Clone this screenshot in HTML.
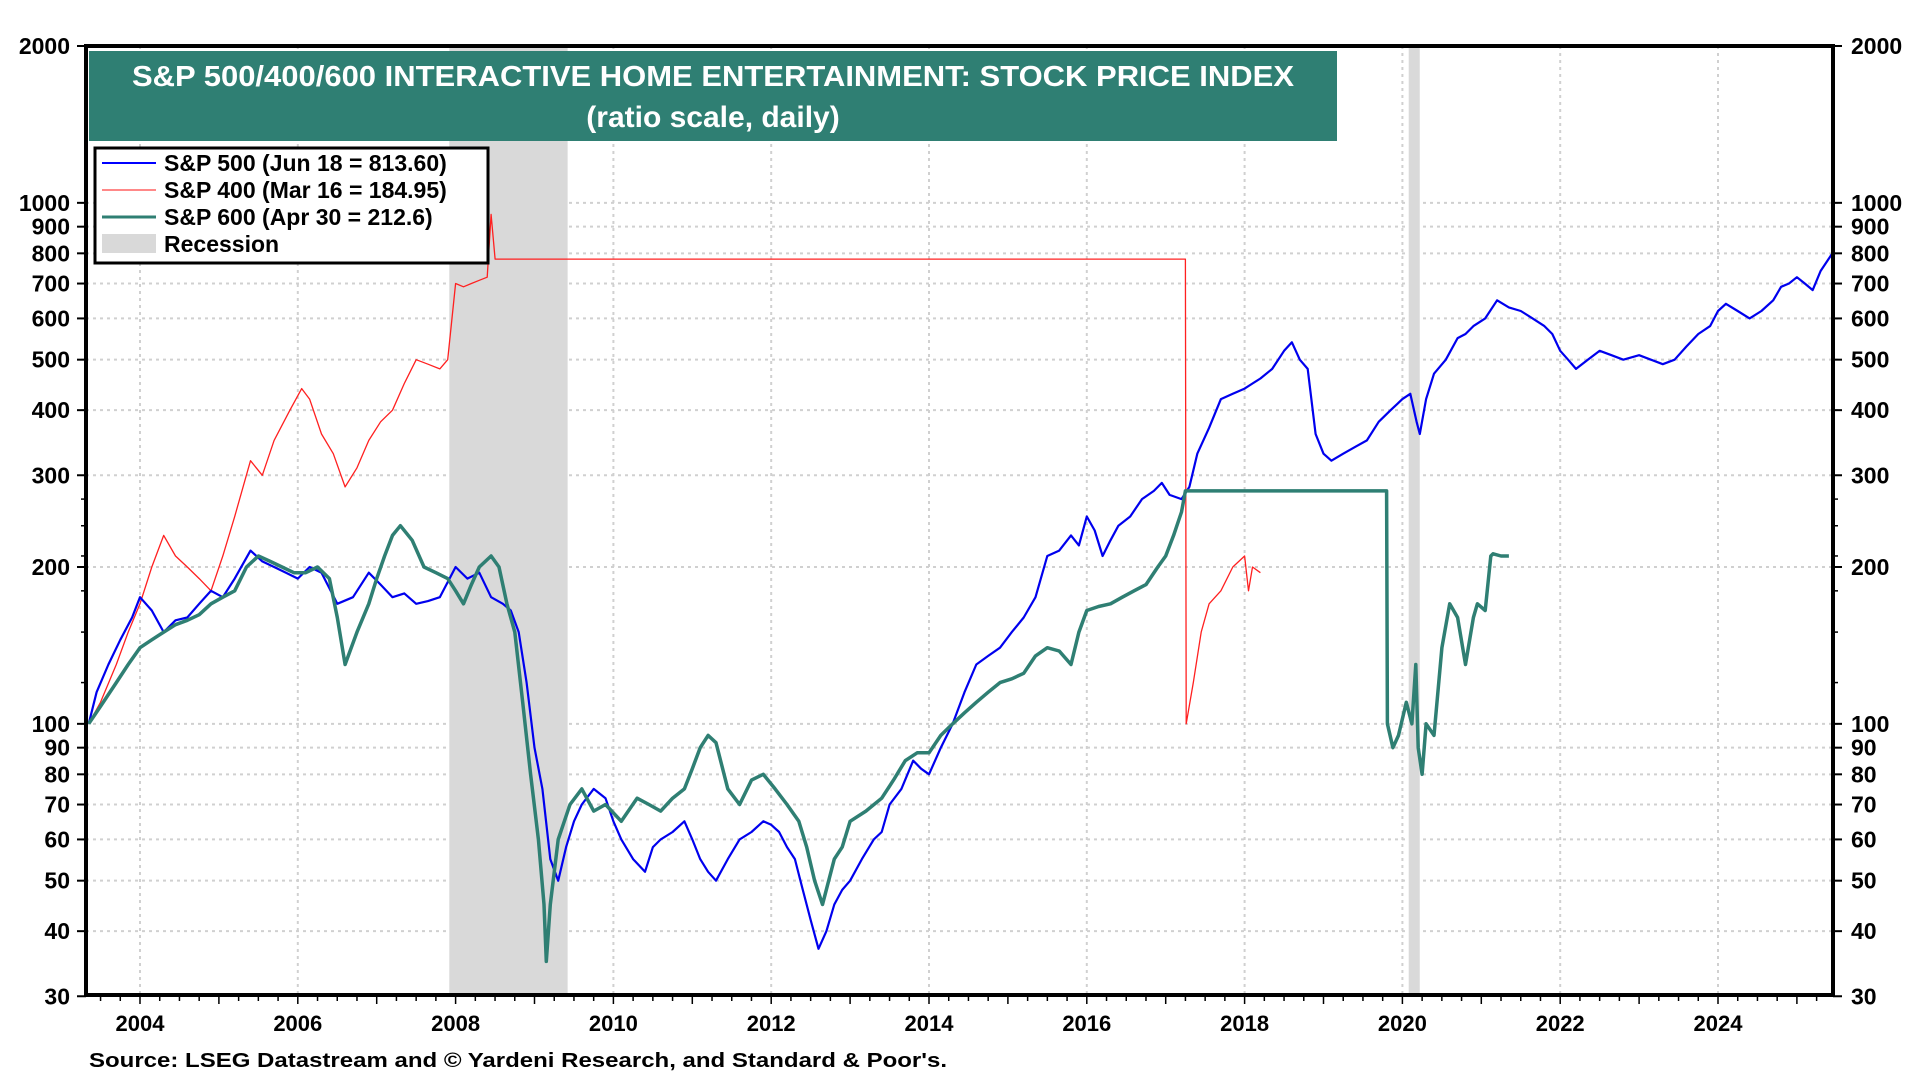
<!DOCTYPE html>
<html><head><meta charset="utf-8"><style>
html,body{margin:0;padding:0;background:#fff;}
svg{display:block;font-family:"Liberation Sans",Arial,sans-serif;font-weight:bold;}
</style></head><body>
<svg id="chart" width="1920" height="1080" viewBox="0 0 1920 1080" xmlns="http://www.w3.org/2000/svg">
<g id="grid"></g>
<g id="rec"></g>
<g id="series"></g>
<rect x="86" y="46" width="1747" height="949" fill="none" stroke="#000" stroke-width="4"/>
<g id="axes"></g>
<g>
<rect x="89" y="51" width="1248" height="90" fill="#2f7f73"/>
<text x="713" y="86" text-anchor="middle" fill="#fff" font-size="29" textLength="1162" lengthAdjust="spacingAndGlyphs">S&amp;P 500/400/600 INTERACTIVE HOME ENTERTAINMENT: STOCK PRICE INDEX</text>
<text x="713" y="127" text-anchor="middle" fill="#fff" font-size="30">(ratio scale, daily)</text>
</g>
<g>
<rect x="95" y="148" width="393" height="115" fill="#fff" stroke="#000" stroke-width="3"/>
<line x1="102" y1="163" x2="156" y2="163" stroke="#0000ff" stroke-width="2"/>
<text x="164" y="171" font-size="23">S&amp;P 500 (Jun 18 = 813.60)</text>
<line x1="102" y1="190" x2="156" y2="190" stroke="#ff6060" stroke-width="1.5"/>
<text x="164" y="198" font-size="23">S&amp;P 400 (Mar 16 = 184.95)</text>
<line x1="102" y1="217" x2="156" y2="217" stroke="#2f7f73" stroke-width="3"/>
<text x="164" y="225" font-size="23">S&amp;P 600 (Apr 30 = 212.6)</text>
<rect x="102" y="234" width="54" height="19" fill="#d9d9d9"/>
<text x="164" y="252" font-size="23">Recession</text>
</g>
<text x="89" y="1067" font-size="20" textLength="858" lengthAdjust="spacingAndGlyphs">Source: LSEG Datastream and © Yardeni Research, and Standard &amp; Poor's.</text>
</svg>
<script>
const yTickValues=[2000,1000,900,800,700,600,500,400,300,200,100,90,80,70,60,50,40,30];
const xYearLabels=[2004,2006,2008,2010,2012,2014,2016,2018,2020,2022,2024];
const recessionStarts=[2007.92,2020.08];
const recessionEnds=[2009.42,2020.22];
const sp500Dates=[2003.35,2003.45,2003.6,2003.75,2003.9,2004.0,2004.15,2004.3,2004.45,2004.6,2004.75,2004.9,2005.05,2005.2,2005.4,2005.55,2005.7,2005.85,2006.0,2006.15,2006.3,2006.5,2006.7,2006.9,2007.05,2007.2,2007.35,2007.5,2007.65,2007.8,2008.0,2008.15,2008.3,2008.45,2008.6,2008.7,2008.8,2008.9,2009.0,2009.1,2009.2,2009.3,2009.4,2009.5,2009.6,2009.75,2009.9,2010.0,2010.1,2010.25,2010.4,2010.5,2010.6,2010.75,2010.9,2011.0,2011.1,2011.2,2011.3,2011.45,2011.6,2011.75,2011.9,2012.0,2012.1,2012.2,2012.3,2012.4,2012.5,2012.6,2012.7,2012.8,2012.9,2013.0,2013.15,2013.3,2013.4,2013.5,2013.65,2013.8,2013.9,2014.0,2014.15,2014.3,2014.45,2014.6,2014.75,2014.9,2015.05,2015.2,2015.35,2015.5,2015.65,2015.8,2015.9,2016.0,2016.1,2016.2,2016.3,2016.4,2016.55,2016.7,2016.85,2016.95,2017.05,2017.2,2017.3,2017.4,2017.55,2017.7,2017.85,2018.0,2018.1,2018.2,2018.35,2018.5,2018.6,2018.7,2018.8,2018.9,2019.0,2019.1,2019.25,2019.4,2019.55,2019.7,2019.85,2020.0,2020.1,2020.18,2020.22,2020.3,2020.4,2020.55,2020.7,2020.8,2020.9,2021.05,2021.2,2021.35,2021.5,2021.65,2021.8,2021.9,2022.0,2022.1,2022.2,2022.35,2022.5,2022.65,2022.8,2022.9,2023.0,2023.15,2023.3,2023.45,2023.6,2023.75,2023.9,2024.0,2024.1,2024.25,2024.4,2024.55,2024.7,2024.8,2024.9,2025.0,2025.1,2025.2,2025.3,2025.4,2025.45];
const sp500Values=[100,115,130,145,160,175,165,150,158,160,170,180,175,190,215,205,200,195,190,200,195,170,175,195,185,175,178,170,172,175,200,190,195,175,170,165,150,120,90,75,55,50,58,65,70,75,72,65,60,55,52,58,60,62,65,60,55,52,50,55,60,62,65,64,62,58,55,48,42,37,40,45,48,50,55,60,62,70,75,85,82,80,90,100,115,130,135,140,150,160,175,210,215,230,220,250,235,210,225,240,250,270,280,290,275,270,285,330,370,420,430,440,450,460,480,520,540,500,480,360,330,320,330,340,350,380,400,420,430,380,360,420,470,500,550,560,580,600,650,630,620,600,580,560,520,500,480,500,520,510,500,505,510,500,490,500,530,560,580,620,640,620,600,620,650,690,700,720,700,680,740,780,800];
const sp400Dates=[2003.35,2003.5,2003.7,2003.85,2004.0,2004.15,2004.3,2004.45,2004.6,2004.75,2004.9,2005.05,2005.2,2005.4,2005.55,2005.7,2005.9,2006.05,2006.15,2006.3,2006.45,2006.6,2006.75,2006.9,2007.05,2007.2,2007.35,2007.5,2007.65,2007.8,2007.9,2008.0,2008.1,2008.2,2008.3,2008.4,2008.45,2008.5,2017.25,2017.26,2017.35,2017.45,2017.55,2017.7,2017.85,2018.0,2018.05,2018.1,2018.2];
const sp400Values=[100,110,130,150,170,200,230,210,200,190,180,210,250,320,300,350,400,440,420,360,330,285,310,350,380,400,450,500,490,480,500,700,690,700,710,720,950,780,780,100,120,150,170,180,200,210,180,200,195];
const sp600Dates=[2003.35,2003.5,2003.7,2003.85,2004.0,2004.15,2004.3,2004.45,2004.6,2004.75,2004.9,2005.05,2005.2,2005.35,2005.5,2005.65,2005.8,2005.95,2006.1,2006.25,2006.4,2006.5,2006.6,2006.75,2006.9,2007.0,2007.1,2007.2,2007.3,2007.45,2007.6,2007.75,2007.9,2008.0,2008.1,2008.2,2008.3,2008.45,2008.55,2008.65,2008.75,2008.85,2008.95,2009.05,2009.12,2009.15,2009.2,2009.3,2009.45,2009.6,2009.75,2009.9,2010.1,2010.3,2010.45,2010.6,2010.75,2010.9,2011.0,2011.1,2011.2,2011.3,2011.45,2011.6,2011.75,2011.9,2012.05,2012.2,2012.35,2012.45,2012.55,2012.65,2012.8,2012.9,2013.0,2013.2,2013.4,2013.55,2013.7,2013.85,2014.0,2014.15,2014.3,2014.45,2014.6,2014.75,2014.9,2015.05,2015.2,2015.35,2015.5,2015.65,2015.8,2015.9,2016.0,2016.15,2016.3,2016.45,2016.6,2016.75,2016.9,2017.0,2017.1,2017.2,2017.25,2019.8,2019.81,2019.88,2019.95,2020.05,2020.12,2020.17,2020.2,2020.25,2020.3,2020.4,2020.5,2020.6,2020.7,2020.8,2020.9,2020.95,2021.05,2021.12,2021.15,2021.25,2021.35];
const sp600Values=[100,108,120,130,140,145,150,155,158,162,170,175,180,200,210,205,200,195,195,200,190,160,130,150,170,190,210,230,240,225,200,195,190,180,170,185,200,210,200,170,150,110,80,60,45,35,45,60,70,75,68,70,65,72,70,68,72,75,82,90,95,92,75,70,78,80,75,70,65,58,50,45,55,58,65,68,72,78,85,88,88,95,100,105,110,115,120,122,125,135,140,138,130,150,165,168,170,175,180,185,200,210,230,255,280,280,100,90,95,110,100,130,90,80,100,95,140,170,160,130,160,170,165,210,212,210,210];

const NS='http://www.w3.org/2000/svg';
const L=86,R=1833,T=46,B=995;
function xs(t){return 140+(t-2004)*78.9;}
function ys(v){return T+Math.log10(2000/v)*521;}
function mk(tag,attrs,parent){const e=document.createElementNS(NS,tag);for(const k in attrs)e.setAttribute(k,attrs[k]);parent.appendChild(e);return e;}
const grid=document.getElementById('grid'),axes=document.getElementById('axes'),rec=document.getElementById('rec'),ser=document.getElementById('series');
yTickValues.forEach(v=>{
  const y=ys(v);
  if(v<2000&&v>30){const g=mk('line',{x1:L,x2:R,y1:y,y2:y,stroke:'#d0d0d0','stroke-width':2,'stroke-dasharray':'3,4'},grid);
  
  }
  const t1=mk('text',{x:70,y:y+8,'text-anchor':'end','font-size':23},axes);t1.textContent=v;
  
  
  const t2=mk('text',{x:1851,y:y+8,'font-size':23},axes);t2.textContent=v;
  
  
  mk('line',{x1:L-9,x2:L,y1:y,y2:y,stroke:'#000','stroke-width':2},axes);
  mk('line',{x1:R,x2:R+9,y1:y,y2:y,stroke:'#000','stroke-width':2},axes);
});
[30,100,1000].forEach(base=>{for(let m=1;m<10;m++){const v=base*m;if(v>2000||v<30)continue;const y=ys(v);
  mk('line',{x1:L-5,x2:L,y1:y,y2:y,stroke:'#000','stroke-width':1.5},axes);
  mk('line',{x1:R,x2:R+5,y1:y,y2:y,stroke:'#000','stroke-width':1.5},axes);}});
for(let yr=2003;yr<=2025;yr++){
  const x=xs(yr);
  if(yr%2==0){const g=mk('line',{x1:x,x2:x,y1:T,y2:B,stroke:'#d0d0d0','stroke-width':2,'stroke-dasharray':'3,4'},grid);
  
  }
  for(let q=0;q<4;q++){const xq=xs(yr+q/4);if(xq>R||xq<L)continue;mk('line',{x1:xq,x2:xq,y1:B,y2:B+(q==0?9:6),stroke:'#000','stroke-width':1.5},axes);}
}
xYearLabels.forEach(yr=>{const t=mk('text',{x:xs(yr),y:1031,'text-anchor':'middle','font-size':22},axes);t.textContent=yr;
  
  });
recessionStarts.forEach((s,i)=>{const r=mk('rect',{x:xs(s),y:T,width:xs(recessionEnds[i])-xs(s),height:B-T,fill:'#d9d9d9'},rec);
  
  });
function line(d,v,color,w,name){
  const pts=d.map((t,i)=>xs(t).toFixed(1)+','+ys(v[i]).toFixed(1)).join(' ');
  const p=mk('polyline',{points:pts,fill:'none',stroke:color,'stroke-width':w,'stroke-linejoin':'round'},ser);
  
  
}
line(sp400Dates,sp400Values,'#ff2020',1.3,'sp400-line');
line(sp500Dates,sp500Values,'#0000ee',2.2,'sp500-line');
line(sp600Dates,sp600Values,'#2f7f73',3.5,'sp600-line');
</script>
</body></html>
